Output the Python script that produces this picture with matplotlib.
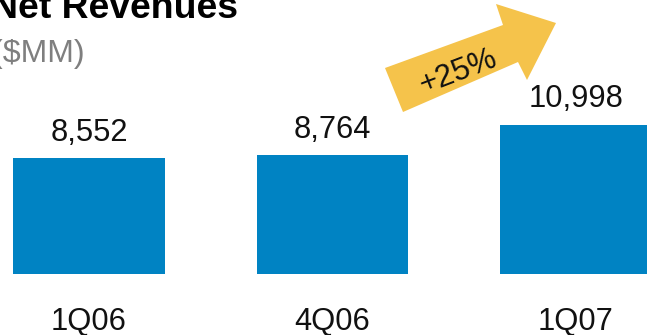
import matplotlib
matplotlib.use("Agg")
import matplotlib.pyplot as plt
from matplotlib.patches import Polygon
from matplotlib.transforms import blended_transform_factory

plt.rcParams['font.family'] = ['Liberation Sans', 'DejaVu Sans']

# Data
categories = ["1Q06", "4Q06", "1Q07"]
revenues = [8552, 8764, 10998]
title = "Net Revenues"
unit = "($MM)"

W, H = 647, 335
fig = plt.figure(figsize=(W / 100, H / 100), dpi=100)
ax = fig.add_axes([0, 0, 1, 1])
ax.set_axis_off()

bar_color = "#0083C3"
x = list(range(len(categories)))
ax.bar(x, revenues, width=0.624, color=bar_color)
ax.set_xlim(-0.3655, 2.2916)
ax.set_ylim(-4530, 20230)

# Value labels above bars
for xi, v in zip(x, revenues):
    ax.annotate(f"{v:,}", xy=(xi, v), xytext=(0, 12.6), textcoords="offset points",
                ha="center", va="baseline", fontsize=22.2, color="#111111")

# Category labels under the bars
trans = blended_transform_factory(ax.transData, ax.transAxes)
for xi, c in zip(x, categories):
    ax.text(xi, 1 - 330.5 / H, c, transform=trans, ha="center", va="baseline",
            fontsize=22.2, color="#111111")


def fig_pt(px, py):
    return (px / W, 1 - py / H)


# Title and unit
fig.text(*fig_pt(-9.4, 18.5), title, ha="left", va="baseline",
         fontsize=26.9, fontweight="bold", color="black")
fig.text(*fig_pt(-8.3, 62), unit, ha="left", va="baseline",
         fontsize=23, color="#7f7f7f")

# Growth arrow
arrow_px = [(403, 112), (385, 68), (503, 25), (496, 4), (556, 23),
            (527, 80), (518, 62)]
arrow = Polygon([fig_pt(*p) for p in arrow_px], closed=True,
                transform=fig.transFigure, facecolor="#F5C34B",
                edgecolor="none")
fig.patches.append(arrow)

growth = round((revenues[2] / revenues[1] - 1) * 100)
fig.text(*fig_pt(458, 72), f"+{growth}%", ha="center", va="center",
         rotation=21, rotation_mode="anchor", fontsize=22.5, color="#111111")

fig.savefig("out.png", dpi=100)
